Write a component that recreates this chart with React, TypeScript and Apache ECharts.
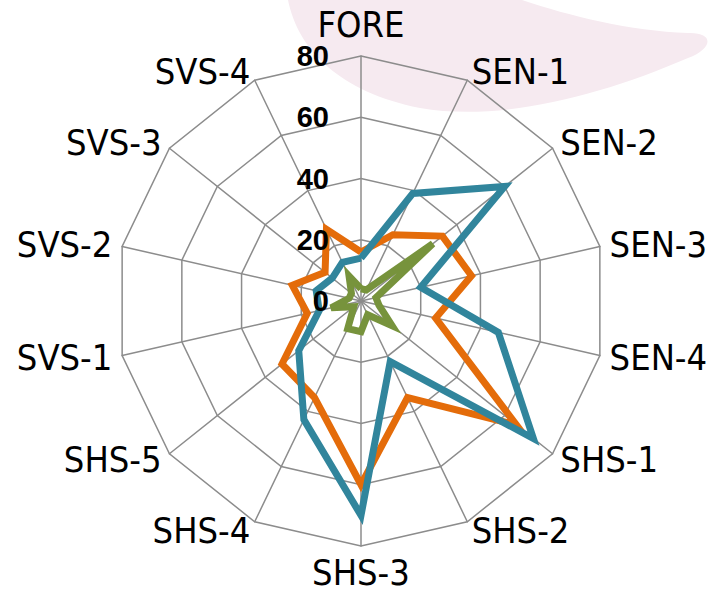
import React, { useEffect, useRef } from "react";
import * as echarts from "echarts";

// Clockwise from the top
const categories = ["FORE", "SEN-1", "SEN-2", "SEN-3", "SEN-4", "SHS-1", "SHS-2", "SHS-3", "SHS-4", "SHS-5", "SVS-1", "SVS-2", "SVS-3", "SVS-4"];
const blueValues = [14, 39, 60, 20, 46, 72, 22, 70, 43, 26, 14, 15, 12, 14];
const orangeValues = [16, 24, 34, 37, 25, 65, 35, 60, 35, 33, 18, 23, 15, 26];
const greenValues = [4, 4, 30, 5, 6, 13, 5, 10, 10, 3, 10, 4, 4, 9];
const tickLabels = [0, 20, 40, 60, 80];
const axisMax = 80;

// ECharts places radar indicators counter-clockwise; reorder to get clockwise
const toCcw = <T,>(arr: T[]): T[] => [arr[0], ...arr.slice(1).reverse()];

const NAME_FONT = "'Liberation Sans Narrow', 'DejaVu Sans Condensed', 'Liberation Sans', Arial, sans-serif";

export default function App() {
  const ref = useRef<HTMLDivElement>(null);
  useEffect(() => {
    if (!ref.current) return;
    echarts.graphic.registerShape(
      "logo",
      echarts.graphic.extendPath(
        "M288,0 C298,50 340,92 420,108 C500,122 600,96 688,58 C714,48 714,32 688,33 C630,31 570,16 522,0 Z",
        {}
      )
    );
    const chart = echarts.init(ref.current, null, { renderer: "svg" });
    const cx = 361;
    const cy = 301;
    const R = 245;
    chart.setOption({
      animation: false,
      backgroundColor: "#ffffff",
      graphic: [
        {
          type: "logo",
          x: 0,
          y: 0,
          z: -10,
          silent: true,
          style: { fill: "#F6EAF0" },
        },
      ],
      grid: { left: cx, top: cy - R, width: 1, height: R, containLabel: false },
      xAxis: { type: "value", show: false, min: 0, max: 1 },
      yAxis: {
        type: "value",
        min: tickLabels[0],
        max: tickLabels[tickLabels.length - 1],
        interval: tickLabels[1] - tickLabels[0],
        axisLine: { show: false },
        axisTick: { show: false },
        splitLine: { show: false },
        axisLabel: {
          margin: 32,
          color: "#000",
          fontSize: 29,
          lineHeight: 20,
          fontWeight: "bold",
          fontFamily: "'Liberation Sans', Arial, sans-serif",
        },
        z: 5,
      },
      radar: {
        center: [cx, cy],
        radius: R,
        startAngle: 90,
        shape: "polygon",
        splitNumber: 4,
        nameGap: 10,
        axisName: {
          color: "#000",
          fontSize: 36,
          lineHeight: 33,
          fontFamily: NAME_FONT,
          formatter: (name: string) => (name === categories[0] ? `{top|${name}}` : name),
          rich: {
            top: {
              color: "#000",
              fontSize: 36,
              lineHeight: 44,
              fontFamily: NAME_FONT,
            },
          },
        },
        indicator: toCcw(categories).map((name) => ({ name, min: 0, max: axisMax })),
        splitLine: { lineStyle: { color: "#8c8c8c", width: 1.5 } },
        splitArea: { show: false },
        axisLine: { lineStyle: { color: "#8c8c8c", width: 1.5 } },
        axisLabel: { show: false },
        axisTick: { show: false },
      },
      series: [
        {
          type: "radar",
          symbol: "none",
          z: 2,
          data: [
            {
              value: toCcw(orangeValues),
              name: "Orange",
              lineStyle: { color: "#E46C0A", width: 7, join: "miter" },
            },
          ],
        },
        {
          type: "radar",
          symbol: "none",
          z: 3,
          data: [
            {
              value: toCcw(blueValues),
              name: "Blue",
              lineStyle: { color: "#31859C", width: 7, join: "miter" },
            },
          ],
        },
        {
          type: "radar",
          symbol: "none",
          z: 4,
          data: [
            {
              value: toCcw(greenValues),
              name: "Green",
              lineStyle: { color: "#77933C", width: 7, join: "miter" },
            },
          ],
        },
      ],
    });
    return () => chart.dispose();
  }, []);
  return (
    <div
      ref={ref}
      style={{ position: "fixed", left: 0, top: 0, width: 725, height: 594 }}
    />
  );
}
